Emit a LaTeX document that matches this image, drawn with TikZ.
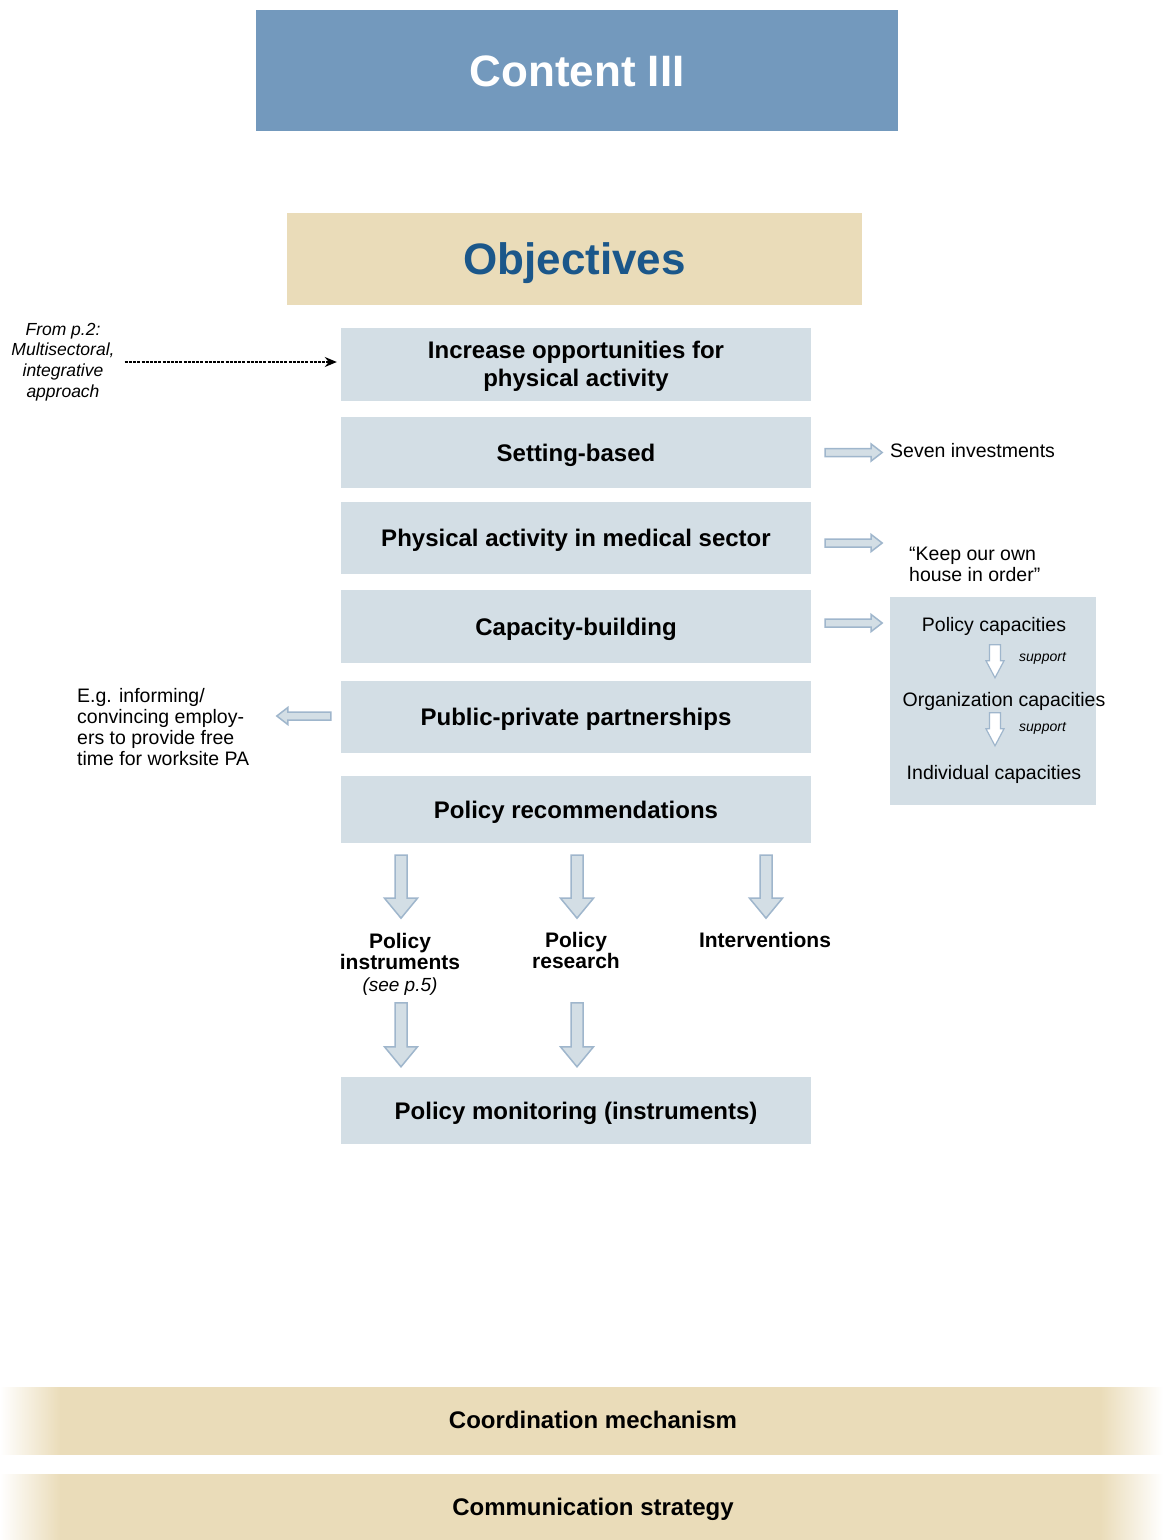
\documentclass[tikz,border=0pt]{standalone}
\usepackage{fontspec}
\setmainfont{Liberation Sans}
\usetikzlibrary{arrows.meta}

\definecolor{headblue}{HTML}{7399BD}
\definecolor{sand}{HTML}{EADCB9}
\definecolor{objblue}{HTML}{1B578A}
\definecolor{boxblue}{HTML}{D3DEE5}
\definecolor{arrowline}{HTML}{9FB6CC}
\pgfdeclarehorizontalshading{bandfade}{100bp}{color(0bp)=(white); color(25bp)=(white);
  color(27.6bp)=(sand); color(72.3bp)=(sand); color(75bp)=(white); color(100bp)=(white)}

\begin{document}
\begin{tikzpicture}[x=1pt,y=-1pt,
  mainbox/.style={fill=boxblue, minimum width=470, align=center, inner sep=0,
    font=\fontsize{24}{28}\selectfont\bfseries},
  oneline/.style={text height=17.3, text depth=0},
  note/.style={inner sep=0, font=\fontsize{19.5}{21}\selectfont},
  supp/.style={inner sep=0, font=\fontsize{14}{16}\selectfont\itshape},
  sublabel/.style={inner sep=0, align=center, font=\fontsize{21}{21.5}\selectfont\bfseries},
  bigarrow/.style={fill=boxblue, draw=arrowline, line width=1.5},
  smallarrow/.style={fill=boxblue, draw=arrowline, line width=1.5},
  whitearrow/.style={fill=white, draw=arrowline, line width=1.2}]
  % block arrow: start, angle, length, shaft half, head half, head length, style
  \def\barrow#1#2#3#4#5#6#7{
    \begin{scope}[shift={#1},rotate=#2]
      \filldraw[#7] (0,#4) -- ({#3-#6},#4) -- ({#3-#6},#5) -- (#3,0)
        -- ({#3-#6},-#5) -- ({#3-#6},-#4) -- (0,-#4) -- cycle;
    \end{scope}
  }
  \useasboundingbox (0,0) rectangle (1163,1540);

  % header
  \node[fill=headblue, minimum width=642, minimum height=121, text=white,
    text height=31.5, text depth=0,
    font=\fontsize{44}{48}\selectfont\bfseries] (content) at (577,70.5) {Content III};
  \node[fill=sand, minimum width=575, minimum height=92, text=objblue,
    text height=31.5, text depth=0,
    font=\fontsize{44}{48}\selectfont\bfseries] (obj) at (574.5,259) {Objectives};

  % main column
  \node[mainbox, minimum height=73] (inc) at (576,364.5) {\rule{0pt}{20pt}Increase opportunities for\\physical activity};
  \node[mainbox, oneline, minimum height=71] (set) at (576,452.5) {Setting-based};
  \node[mainbox, oneline, minimum height=72] (med) at (576,538) {Physical activity in medical sector};
  \node[mainbox, oneline, minimum height=73] (cap) at (576,626.5) {Capacity-building};
  \node[mainbox, oneline, minimum height=72] (ppp) at (576,717) {Public-private partnerships};
  \node[mainbox, oneline, minimum height=67] (rec) at (576,809.5) {Policy recommendations};
  \node[mainbox, oneline, minimum height=67] (mon) at (576,1110.5) {Policy monitoring (instruments)};

  % left side
  \node[inner sep=0, align=center, font=\fontsize{17.5}{20.7}\selectfont\itshape]
    (from) at (63,362) {From p.2:\\Multisectoral,\\integrative\\approach};
  \draw[line width=1.5, dash pattern=on 3pt off 1.2pt, -{Stealth[length=12,width=10]},
    shorten >=4] ([xshift=10]from.east) -- (from.east -| inc.west);
  \node[inner sep=0, align=left, anchor=west, font=\fontsize{19.5}{20.7}\selectfont]
    (eg) at (77,727) {E.g. informing/\\convincing employ-\\ers to provide free\\time for worksite PA};
  \barrow{([xshift=-10,yshift=1]ppp.west)}{180}{54}{4}{8.5}{11}{smallarrow}

  % right side
  \node[note, anchor=west] (seven) at (890,451) {Seven investments};
  \node[note, align=left, anchor=west] (house) at (909,564.5) {“Keep our own\\house in order”};
  \barrow{([xshift=14]set.east)}{0}{57}{4}{8.5}{11}{smallarrow}
  \barrow{([xshift=14,yshift=-5]med.east)}{0}{57}{4}{8.5}{11}{smallarrow}
  \barrow{([xshift=14,yshift=3.5]cap.east)}{0}{57}{4}{8.5}{11}{smallarrow}

  % capacities
  \node[fill=boxblue, minimum width=206, minimum height=208] (capbox) at (993,701) {};
  \node[note] (polcap) at (994,626.5) {Policy capacities};
  \node[note] (orgcap) at (1004,701.5) {Organization capacities};
  \node[note] (indcap) at (994,774) {Individual capacities};
  \node[supp, anchor=west] (supp1) at (1019,658) {support};
  \node[supp, anchor=west] (supp2) at (1019,728) {support};
  \barrow{([xshift=2,yshift=-48]capbox.north)}{-90}{33}{5.5}{9}{17}{whitearrow}
  \barrow{([xshift=2,yshift=-116]capbox.north)}{-90}{33}{5.5}{9}{17}{whitearrow}

  % below recommendations
  \node[sublabel, anchor=north] (polinst) at (400,933)
    {Policy\\instruments\\{\fontsize{19}{21.5}\selectfont\mdseries\itshape (see p.5)}};
  \node[sublabel, anchor=north] (polres) at (576,932) {Policy\\research};
  \node[sublabel, anchor=north] (interv) at (765,932) {Interventions};
  \foreach \dx in {-175,1,190} {
    \barrow{([xshift=\dx,yshift=-12]rec.south)}{-90}{63}{6}{16.5}{20}{bigarrow}
  }
  \foreach \dx in {-175,1} {
    \barrow{([xshift=\dx,yshift=74]mon.north)}{-90}{64}{6}{16.5}{20}{bigarrow}
  }

  % bottom bands
  \foreach \ya/\yb in {1387/1454,1474/1540} {
    \shade[shading=bandfade] (0,\ya) rectangle (1163,\yb);
  }
  \node[inner sep=0, oneline, font=\fontsize{24}{28}\selectfont\bfseries] (coord) at (593,1420) {Coordination mechanism};
  \node[inner sep=0, oneline, font=\fontsize{24}{28}\selectfont\bfseries] (comm) at (593,1507) {Communication strategy};
\end{tikzpicture}
\end{document}
